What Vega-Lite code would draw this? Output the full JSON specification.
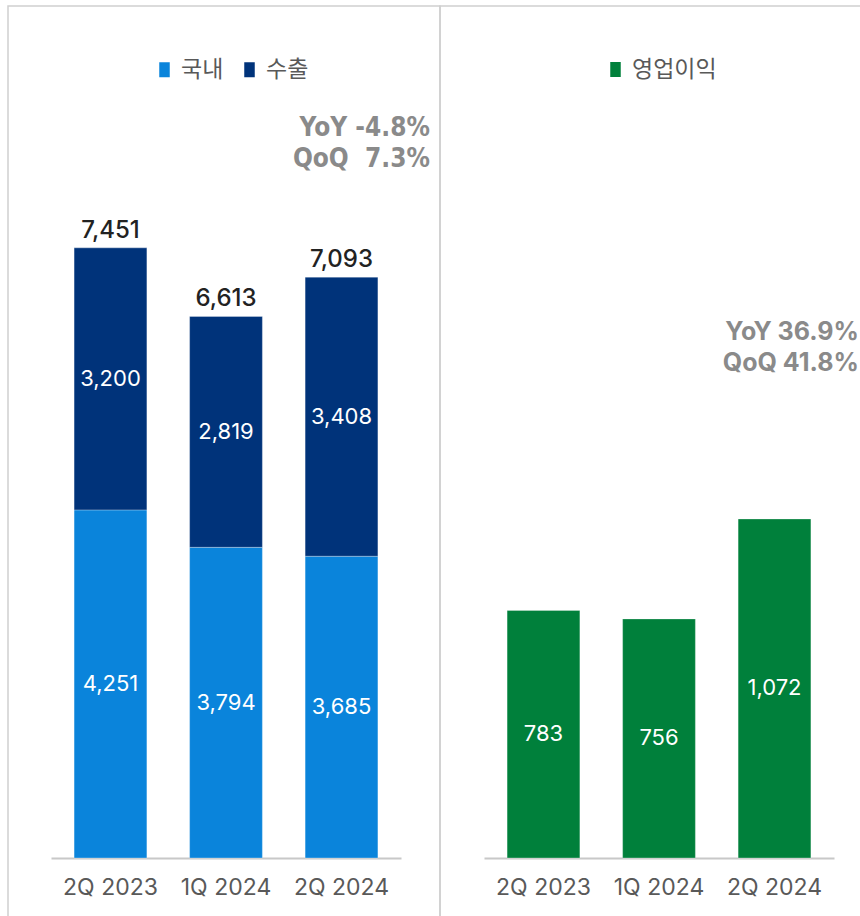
{
  "$schema": "https://vega.github.io/schema/vega-lite/v6.json",
  "padding": {"left": 7, "top": 5, "right": 0, "bottom": 0},
  "spacing": 0,
  "bounds": "flush",
  "background": "white",
  "config": {"view": {"stroke": "#d0d0d0", "strokeWidth": 1.5}, "font": "Inter"},
  "resolve": {"scale": {"color": "independent", "y": "independent", "x": "independent"}, "legend": {"color": "independent"}},
  "hconcat": [
    {
      "width": 432,
      "height": 911,
      "data": {"values": [
        {"quarter": "2Q 2023", "type": "국내", "value": 4251},
        {"quarter": "2Q 2023", "type": "수출", "value": 3200},
        {"quarter": "1Q 2024", "type": "국내", "value": 3794},
        {"quarter": "1Q 2024", "type": "수출", "value": 2819},
        {"quarter": "2Q 2024", "type": "국내", "value": 3685},
        {"quarter": "2Q 2024", "type": "수출", "value": 3408}
      ]},
      "layer": [
        {
          "mark": {"type": "bar", "stroke": "#ffffff", "strokeWidth": 0.6, "strokeOpacity": 0.5},
          "encoding": {
            "x": {"field": "quarter", "type": "nominal", "sort": ["2Q 2023", "1Q 2024", "2Q 2024"],
              "scale": {"range": [43, 393], "paddingInner": 0.37, "paddingOuter": 0.2},
              "axis": {"title": null, "labelAngle": 0, "ticks": false, "domainColor": "#c8c8c8", "domainWidth": 2, "labelFontSize": 23, "labelColor": "#595959", "labelPadding": 18, "offset": -59, "labelFont": "Inter"}},
            "y": {"field": "value", "type": "quantitative", "stack": "zero", "scale": {"domain": [0, 9000], "range": [852, 115], "nice": false}, "axis": null},
            "color": {"field": "type", "type": "nominal", "scale": {"domain": ["국내", "수출"], "range": ["#0A84DB", "#00337A"]},
              "legend": {"title": null, "orient": "none", "legendX": 145, "legendY": 52, "padding": 0, "direction": "horizontal", "symbolType": "M-0.7,-1H0.7V1H-0.7Z", "symbolSize": 225, "symbolStrokeWidth": 0, "labelFontSize": 23, "labelFont": "Noto Sans CJK KR", "labelColor": "#595959", "labelOffset": 5, "columnPadding": 14}},
            "order": {"field": "type", "sort": "ascending"}
          }
        },
        {
          "transform": [
            {"stack": "value", "groupby": ["quarter"], "sort": [{"field": "type", "order": "ascending"}], "as": ["v0", "v1"]},
            {"calculate": "(datum.v0 + datum.v1) / 2", "as": "mid"}
          ],
          "mark": {"type": "text", "color": "#ffffff", "fontSize": 22, "font": "Inter"},
          "encoding": {
            "x": {"field": "quarter", "type": "nominal", "sort": ["2Q 2023", "1Q 2024", "2Q 2024"]},
            "y": {"field": "mid", "type": "quantitative"},
            "text": {"field": "value", "type": "quantitative", "format": ","}
          }
        },
        {
          "mark": {"type": "text", "color": "#222222", "fontSize": 24, "fontWeight": 500, "dy": -17, "font": "Inter"},
          "encoding": {
            "x": {"field": "quarter", "type": "nominal", "sort": ["2Q 2023", "1Q 2024", "2Q 2024"]},
            "y": {"aggregate": "sum", "field": "value", "type": "quantitative"},
            "text": {"aggregate": "sum", "field": "value", "type": "quantitative", "format": ","}
          }
        },
        {
          "data": {"values": [{"label": "YoY -4.8%"}]},
          "mark": {"type": "text", "align": "right", "dx": 52, "font": "DejaVu Sans Condensed", "fontWeight": "bold", "fontSize": 26, "color": "#8a8a8a"},
          "encoding": {
            "x": {"datum": "2Q 2024", "bandPosition": 1},
            "y": {"datum": 8913},
            "text": {"field": "label"}
          }
        },
        {
          "data": {"values": [{"label": "QoQ\u00a0\u00a07.3%"}]},
          "mark": {"type": "text", "align": "right", "dx": 52, "font": "DejaVu Sans Condensed", "fontWeight": "bold", "fontSize": 26, "color": "#8a8a8a"},
          "encoding": {
            "x": {"datum": "2Q 2024", "bandPosition": 1},
            "y": {"datum": 8535},
            "text": {"field": "label"}
          }
        }
      ]
    },
    {
      "width": 421,
      "height": 911,
      "data": {"values": [
        {"quarter": "2Q 2023", "type": "영업이익", "value": 783},
        {"quarter": "1Q 2024", "type": "영업이익", "value": 756},
        {"quarter": "2Q 2024", "type": "영업이익", "value": 1072}
      ]},
      "layer": [
        {
          "mark": {"type": "bar", "stroke": "#ffffff", "strokeWidth": 0.6, "strokeOpacity": 0.5},
          "encoding": {
            "x": {"field": "quarter", "type": "nominal", "sort": ["2Q 2023", "1Q 2024", "2Q 2024"],
              "scale": {"range": [44, 394], "paddingInner": 0.37, "paddingOuter": 0.2},
              "axis": {"title": null, "labelAngle": 0, "ticks": false, "domainColor": "#c8c8c8", "domainWidth": 2, "labelFontSize": 23, "labelColor": "#595959", "labelPadding": 18, "offset": -59, "labelFont": "Inter"}},
            "y": {"field": "value", "type": "quantitative", "scale": {"domain": [0, 2400], "range": [852, 93], "nice": false}, "axis": null},
            "color": {"field": "type", "type": "nominal", "scale": {"domain": ["영업이익"], "range": ["#00803B"]},
              "legend": {"title": null, "orient": "none", "legendX": 164, "legendY": 52, "padding": 0, "direction": "horizontal", "symbolType": "M-0.7,-1H0.7V1H-0.7Z", "symbolSize": 225, "symbolStrokeWidth": 0, "labelFontSize": 23, "labelFont": "Noto Sans CJK KR", "labelColor": "#595959", "labelOffset": 5}}
          }
        },
        {
          "transform": [
            {"stack": "value", "groupby": ["quarter"], "as": ["v0", "v1"]},
            {"calculate": "(datum.v0 + datum.v1) / 2", "as": "mid"}
          ],
          "mark": {"type": "text", "color": "#ffffff", "fontSize": 22, "font": "Inter"},
          "encoding": {
            "x": {"field": "quarter", "type": "nominal", "sort": ["2Q 2023", "1Q 2024", "2Q 2024"]},
            "y": {"field": "mid", "type": "quantitative"},
            "text": {"field": "value", "type": "quantitative", "format": ","}
          }
        },
        {
          "data": {"values": [{"label": "YoY 36.9%"}]},
          "mark": {"type": "text", "align": "right", "dx": 48, "font": "Inter", "fontWeight": "bold", "fontSize": 25, "color": "#8a8a8a"},
          "encoding": {
            "x": {"datum": "2Q 2024", "bandPosition": 1},
            "y": {"datum": 1663},
            "text": {"field": "label"}
          }
        },
        {
          "data": {"values": [{"label": "QoQ 41.8%"}]},
          "mark": {"type": "text", "align": "right", "dx": 48, "font": "Inter", "fontWeight": "bold", "fontSize": 25, "color": "#8a8a8a"},
          "encoding": {
            "x": {"datum": "2Q 2024", "bandPosition": 1},
            "y": {"datum": 1565},
            "text": {"field": "label"}
          }
        }
      ]
    }
  ]
}
